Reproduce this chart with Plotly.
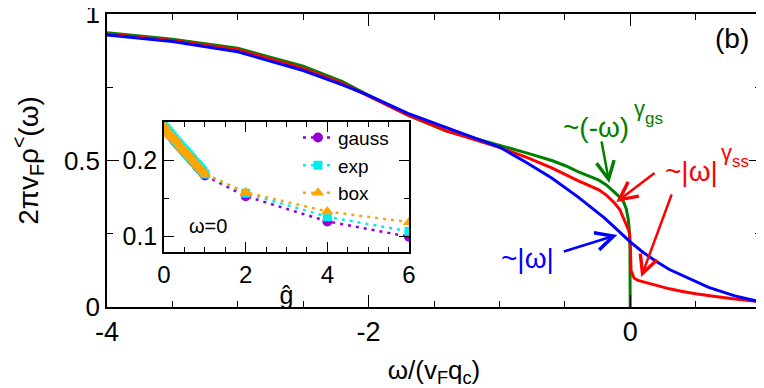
import plotly.graph_objects as go

# main panel: spectral function curves
omega_blue = [-4, -3.5, -3, -2.5, -2.2, -2, -1.7, -1.4, -1.0, -0.8, -0.6, -0.4, -0.3, -0.2, -0.1, 0,
              0.1, 0.2, 0.3, 0.4, 0.5, 0.6, 0.8, 1.0]
rho_blue = [0.928, 0.906, 0.871, 0.807, 0.758, 0.722, 0.661, 0.612, 0.546, 0.495, 0.44, 0.376, 0.342,
            0.305, 0.264, 0.222, 0.186, 0.155, 0.128, 0.108, 0.087, 0.067, 0.038, 0.017]

omega_green = [-4, -3.5, -3, -2.5, -2.2, -2, -1.7, -1.4, -1.2, -1.0, -0.8, -0.6, -0.5, -0.4, -0.3,
               -0.24, -0.18, -0.12, -0.08, -0.05, -0.03, -0.015, -0.006, -0.002, 0]
rho_green = [0.936, 0.914, 0.883, 0.822, 0.769, 0.722, 0.655, 0.600, 0.577, 0.553, 0.527, 0.500,
             0.483, 0.462, 0.444, 0.433, 0.416, 0.393, 0.375, 0.358, 0.335, 0.300, 0.260, 0.210, 0]

omega_red = [-4, -3.5, -3, -2.5, -2.2, -2, -1.7, -1.4, -1.0, -0.8, -0.6, -0.4, -0.3, -0.24, -0.18,
             -0.12, -0.08, -0.046, -0.025, -0.012, -0.005, 0.002, 0.006, 0.015, 0.03, 0.06, 0.1,
             0.145, 0.2, 0.3, 0.4, 0.5, 0.65, 0.8, 1.0]
rho_red = [0.932, 0.910, 0.878, 0.814, 0.763, 0.720, 0.655, 0.600, 0.545, 0.512, 0.475, 0.431, 0.413,
           0.400, 0.381, 0.355, 0.333, 0.300, 0.277, 0.262, 0.250, 0.200, 0.125, 0.112, 0.098, 0.091,
           0.086, 0.081, 0.074, 0.062, 0.053, 0.045, 0.036, 0.027, 0.018]

# inset: rho at omega=0 versus coupling g
g_vals = [0, 0.05, 0.1, 0.15, 0.2, 0.25, 0.3, 0.35, 0.4, 0.45, 0.5, 0.55, 0.6, 0.65, 0.7, 0.75,
          0.8, 0.85, 0.9, 0.95, 1.0, 2, 4, 6]
gauss = [0.244, 0.240, 0.236, 0.233, 0.230, 0.226, 0.223, 0.220, 0.217, 0.214, 0.211, 0.208, 0.205,
         0.202, 0.199, 0.196, 0.193, 0.190, 0.187, 0.184, 0.180, 0.153, 0.120, 0.100]
expo = [0.245, 0.241, 0.238, 0.235, 0.232, 0.228, 0.225, 0.222, 0.219, 0.216, 0.213, 0.210, 0.207,
        0.204, 0.201, 0.198, 0.195, 0.192, 0.189, 0.186, 0.182, 0.157, 0.126, 0.107]
box = [0.245, 0.241, 0.237, 0.234, 0.231, 0.228, 0.225, 0.222, 0.219, 0.216, 0.213, 0.210, 0.207,
       0.204, 0.201, 0.198, 0.195, 0.192, 0.189, 0.186, 0.182, 0.158, 0.133, 0.119]

x_ticks = [-4, -2, 0]
x_ticktext = ["-4", "-2", "0"]
y_ticks = [0, 0.5, 1]
y_ticktext = ["0", "0.5", "1"]

FONT = "Liberation Sans"

fig = go.Figure()
fig.add_trace(go.Scatter(x=omega_green, y=rho_green, mode="lines", line=dict(color="#008000", width=3),
                         showlegend=False))
fig.add_trace(go.Scatter(x=omega_red, y=rho_red, mode="lines", line=dict(color="#ff0000", width=3),
                         showlegend=False))
fig.add_trace(go.Scatter(x=omega_blue, y=rho_blue, mode="lines", line=dict(color="#0000ff", width=3),
                         showlegend=False))

# inset traces
fig.add_trace(go.Scatter(x=g_vals, y=gauss, name="gauss", mode="lines+markers", xaxis="x2", yaxis="y2",
                         line=dict(color="#9400d3", width=2.5, dash="3px,5px"),
                         marker=dict(symbol="circle", size=10, color="#9400d3")))
fig.add_trace(go.Scatter(x=g_vals, y=expo, name="exp", mode="lines+markers", xaxis="x2", yaxis="y2",
                         line=dict(color="#00eeee", width=2.5, dash="3px,5px"),
                         marker=dict(symbol="square", size=9, color="#00eeee")))
fig.add_trace(go.Scatter(x=g_vals, y=box, name="box", mode="lines+markers", xaxis="x2", yaxis="y2",
                         line=dict(color="#ffa500", width=2.5, dash="3px,5px"),
                         marker=dict(symbol="triangle-up", size=11, color="#ffa500")))

axis_common = dict(showline=True, linecolor="black", linewidth=1.5, mirror="allticks", ticks="inside",
                   tickcolor="black", showgrid=False, zeroline=False, automargin=False,
                   ticklabeloverflow="allow")

# the page body adds an 8px offset, so the figure is 8px smaller than the window
fig.update_layout(
    width=756, height=380,
    margin=dict(l=99, r=3, t=6, b=81, autoexpand=False),
    paper_bgcolor="white", plot_bgcolor="white",
    font=dict(family=FONT, color="black"),
    xaxis=dict(range=[-4, 1], tickmode="array", tickvals=x_ticks, ticktext=x_ticktext,
               ticklen=12, tickwidth=1.2, tickfont=dict(size=27),
               minor=dict(dtick=0.5, tick0=-4, ticks="inside", ticklen=6, tickcolor="black"),
               title=dict(text="ω/(v<sub>F</sub>q<sub>c</sub>)", font=dict(size=26), standoff=17),
               **axis_common),
    yaxis=dict(range=[0, 1], tickmode="array", tickvals=y_ticks, ticktext=y_ticktext,
               ticklen=12, tickwidth=1.2, tickfont=dict(size=26),
               minor=dict(dtick=0.25, tick0=0, ticks="inside", ticklen=6, tickcolor="black"),
               title=dict(text="2πv<sub>F</sub>ρ<sup>&lt;</sup>(ω)", font=dict(size=28), standoff=24),
               **axis_common),
    xaxis2=dict(domain=[0.0872, 0.4618], anchor="y2", range=[0, 6], dtick=2, tick0=0,
                ticklen=10, tickwidth=1.2, tickfont=dict(size=24),
                minor=dict(dtick=0.5, ticks="inside", ticklen=5, tickcolor="black"),
                title=dict(text="ĝ", font=dict(size=25), standoff=0),
                **axis_common),
    yaxis2=dict(domain=[0.1877, 0.6314], anchor="x2", range=[0.08, 0.25], dtick=0.1, tick0=0,
                ticklen=10, tickwidth=1.2, tickfont=dict(size=25),
                minor=dict(dtick=0.05, ticks="inside", ticklen=5, tickcolor="black"),
                **axis_common),
    legend=dict(x=0.292, y=0.643, xanchor="left", yanchor="top", bgcolor="rgba(0,0,0,0)",
                font=dict(size=19), tracegroupgap=0, itemwidth=30),
)

# annotations in the main panel
arrows = [
    (-0.160, 0.423, -0.221, 0.570, "#008000"),
    (-0.107, 0.358, 0.198, 0.461, "#ff0000"),
    (0.084, 0.102, 0.321, 0.389, "#ff0000"),
    (-0.099, 0.246, -0.519, 0.188, "#0000ff"),
]
for hx, hy, tx, ty, col in arrows:
    fig.add_annotation(x=hx, y=hy, ax=tx, ay=ty, xref="x", yref="y", axref="x", ayref="y",
                       text="", showarrow=True, arrowhead=5, arrowsize=1.4, arrowwidth=2.5,
                       arrowcolor=col, standoff=0)

labels = [
    (-0.26, 0.614, "~(-ω)", 28, "#008000"),
    (0.069, 0.679, "γ", 22, "#008000"),
    (0.183, 0.645, "gs", 17, "#008000"),
    (0.466, 0.461, "~|ω|", 28, "#ff0000"),
    (0.733, 0.526, "γ", 22, "#ff0000"),
    (0.847, 0.495, "ss", 17, "#ff0000"),
    (-0.786, 0.167, "~|ω|", 28, "#0000ff"),
]
for x, y, t, s, col in labels:
    fig.add_annotation(x=x, y=y, xref="x", yref="y", text=t, showarrow=False,
                       xanchor="center", yanchor="middle",
                       font=dict(size=s, color=col, family=FONT))

fig.add_annotation(x=0.956, y=0.915, xref="paper", yref="paper", text="(b)", showarrow=False,
                   xanchor="center", yanchor="middle", font=dict(size=28, color="black", family=FONT))
fig.add_annotation(x=1.08, y=0.114, xref="x2", yref="y2", text="ω=0", showarrow=False,
                   xanchor="center", yanchor="middle", font=dict(size=20, color="black", family=FONT))

fig.write_html("out.html")
